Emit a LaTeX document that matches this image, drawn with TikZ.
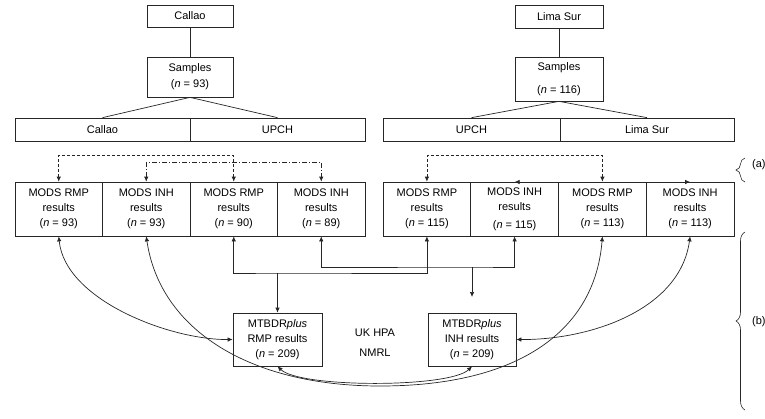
\documentclass[tikz,border=0pt]{standalone}
\usepackage{fontspec}
\setmainfont{Liberation Sans}
\usetikzlibrary{arrows.meta,decorations.pathreplacing}
\begin{document}
\begin{tikzpicture}[x=1pt,y=-1pt,
  box/.style={draw=black!85, line width=0.7pt, inner sep=0pt, align=center, font=\fontsize{11}{15}\selectfont},
  mods/.style={box, minimum width=87.5pt, minimum height=54pt},
  modsr/.style={box, minimum width=87.75pt, minimum height=54pt},
  lbl/.style={inner sep=0pt, font=\fontsize{11}{13}\selectfont},
  conn/.style={line width=0.7pt, draw=black!85},
  dsh/.style={dash pattern=on 3pt off 2pt},
  dshdot/.style={dash pattern=on 5pt off 2pt on 1pt off 2pt},
  >={Latex[length=5pt,width=4.5pt]}]
\useasboundingbox (0,0) rectangle (765,418);

% top left
\node[box, minimum width=86pt, minimum height=22pt] (callao) at (190,16) {Callao};
\node[box, minimum width=86pt, minimum height=40pt] (s1) at (190,77) {Samples\\[1pt](\textit{n} = 93)};
\node[box, minimum width=175pt, minimum height=23pt] (c1) at (102.5,129.5) {Callao};
\node[box, minimum width=175pt, minimum height=23pt] (u1) at (277.5,129.5) {UPCH};
\draw[conn] (callao) -- (s1);
\draw[conn] (s1.south) -- (c1.north);
\draw[conn] (s1.south) -- (u1.north);

% top right
\node[box, minimum width=88pt, minimum height=23pt] (lima) at (559,16.5) {Lima Sur};
\node[box, minimum width=88pt, minimum height=44pt] (s2) at (559,79) {Samples\\[8pt](\textit{n} = 116)};
\node[box, minimum width=177pt, minimum height=23pt] (u2) at (471.5,129.5) {UPCH};
\node[box, minimum width=174pt, minimum height=23pt] (ls) at (647,129.5) {Lima Sur};
\draw[conn] (lima) -- (s2);
\draw[conn] (s2.south) -- (u2.north);
\draw[conn] (s2.south) -- (ls.north);

% MODS rows
\node[mods] (L1) at (58.75,209) {MODS RMP\\results\\(\textit{n} = 93)};
\node[mods] (L2) at (146.25,209) {MODS INH\\results\\(\textit{n} = 93)};
\node[mods] (L3) at (233.75,209) {MODS RMP\\results\\(\textit{n} = 90)};
\node[mods] (L4) at (321.25,209) {MODS INH\\results\\(\textit{n} = 89)};
\node[modsr] (R1) at (426.9,209) {MODS RMP\\results\\(\textit{n} = 115)};
\node[modsr] (R2) at (514.6,209) {MODS INH\\results\\[3pt](\textit{n} = 115)};
\node[modsr] (R3) at (602.4,209) {MODS RMP\\results\\(\textit{n} = 113)};
\node[modsr] (R4) at (690.1,209) {MODS INH\\results\\(\textit{n} = 113)};

% bottom boxes
\node[box, minimum width=89pt, minimum height=53pt] (rmp) at (277.5,339.5) {MTBDR\textit{plus}\\RMP results\\(\textit{n} = 209)};
\node[box, minimum width=88pt, minimum height=53pt] (inh) at (472,339.5) {MTBDR\textit{plus}\\INH results\\(\textit{n} = 209)};
\node[lbl] (uk) at (375,333) {UK HPA};
\node[lbl] (nmrl) at (375,353) {NMRL};

% dashed links
\draw[conn,dsh,<->] (L1.north) -- ++(0,-26) -| (L3.north);
\draw[conn,dshdot,<->] (L2.north) -- ++(0,-19) -| (L4.north);
\draw[conn,dsh,<->] (R1.north) -- ++(0,-26) -| (R3.north);
\draw[conn,dshdot,<->] ([yshift=-0.35pt]R2.north) -- ([yshift=-0.35pt]R4.north);

% orthogonal links
\coordinate (j1) at (277.5,273);
\draw[conn,<->] (L3.south) |- (j1) -| (R1.south);
\draw[conn,->] (j1) -- (rmp.north);
\coordinate (j2) at (472,267);
\coordinate (e2) at (472,297);
\draw[conn,<->] (L4.south) |- (j2) -| (R2.south);
\draw[conn,->] (j2) -- (e2);

% curves
\draw[conn,<->] (L1.south) .. controls (65,300) and (170,340) .. (rmp.west);
\draw[conn,<->] (L2.south) .. controls (160,330) and (250,386) .. (380,386)
   .. controls (520,386) and (595,330) .. (R3.south);
\draw[conn,<->] (R4.south) .. controls (680,310) and (590,340) .. (inh.east);
\draw[conn,<->] (rmp.south) .. controls (300,388) and (450,388) .. (inh.south);

% braces
\draw[line width=0.6pt, draw=black!85, decorate, decoration={brace, amplitude=9pt}] (745,182) -- (745,158);
\draw[line width=0.6pt, draw=black!85, decorate, decoration={brace, amplitude=9pt}] (745,410) -- (745,232);
\node[lbl, anchor=west] (a) at (752,165) {(a)};
\node[lbl, anchor=west] (b) at (752,322) {(b)};
\end{tikzpicture}
\end{document}
